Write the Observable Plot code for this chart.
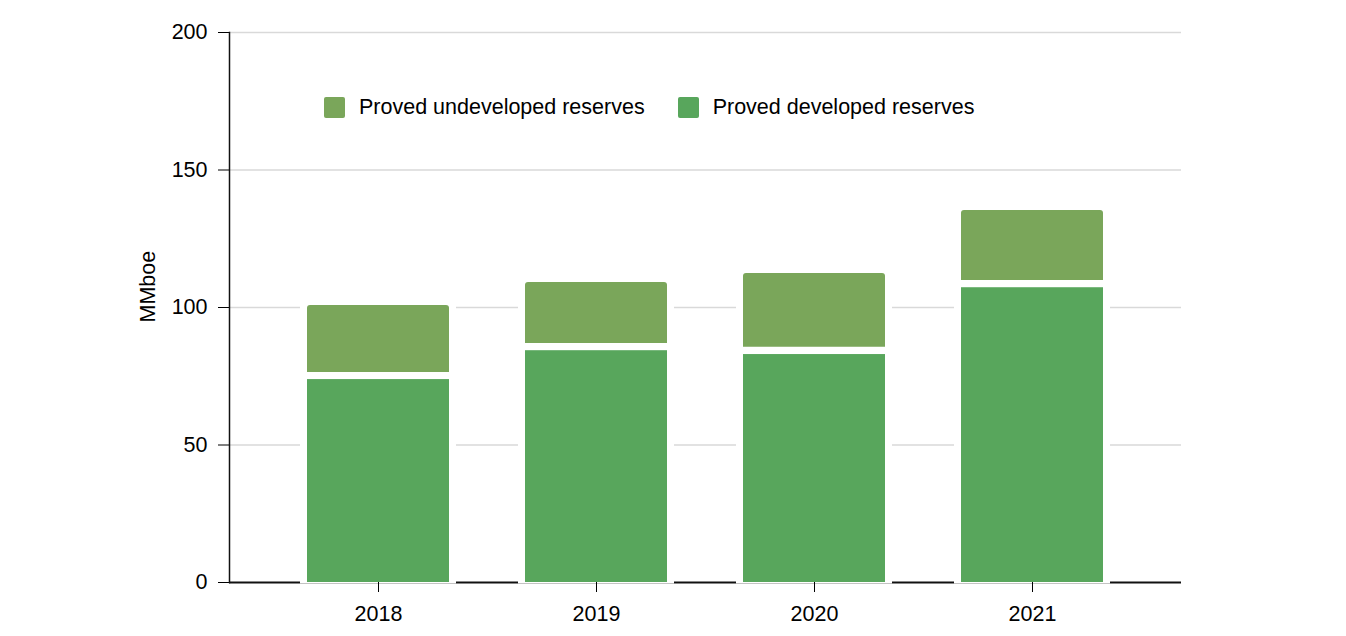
<!DOCTYPE html>
<html><head><meta charset="utf-8">
<script src="https://cdn.jsdelivr.net/npm/d3@7"></script>
<script src="https://cdn.jsdelivr.net/npm/@observablehq/plot@0.6"></script>
<style>
body{margin:0;background:#fff;font-family:"Liberation Sans",Arial,sans-serif;}
#wrap{position:relative;width:1346px;height:636px;}
#legend{position:absolute;left:324px;top:97px;display:flex;align-items:center;font-size:21.5px;color:#000;line-height:21px;}
.item{display:flex;align-items:center;margin-right:33px;}
.sw{width:21px;height:21px;border-radius:2px;margin-right:14px;}
</style></head><body>
<div id="wrap"><div id="legend"></div></div>
<script>
const years = ["2018", "2019", "2020", "2021"];
const developed = [75.1, 85.6, 84.2, 108.5];
const undeveloped = [25.6, 23.5, 28.2, 26.8];
const seriesNames = ["Proved undeveloped reserves", "Proved developed reserves"];
const seriesColors = ["#7aa65a", "#58a65c"];
const yTicks = [0, 50, 100, 150, 200];
const yLabel = "MMboe";

const rows = years.map((y, i) => ({year: y, dev: developed[i], total: developed[i] + undeveloped[i]}));

const chart = Plot.plot({
  width: 1346, height: 636,
  marginLeft: 229, marginRight: 165, marginTop: 32, marginBottom: 54,
  style: {fontFamily: '"Liberation Sans", Arial, sans-serif', fontSize: "21.5px", color: "#000", background: "#fff"},
  x: {domain: years, padding: 0.35, label: null},
  y: {domain: [0, 200], label: null},
  marks: [
    Plot.ruleY(yTicks.filter(d => d > 0), {stroke: "#d9d9d9", strokeWidth: 1.5}),
    Plot.ruleY([0], {stroke: "#111", strokeWidth: 2}),
    Plot.barY(rows, {x: "year", y1: 0, y2: "total", fill: "#fff", insetLeft: -7, insetRight: -7, insetBottom: -1.5}),
    Plot.barY(rows, {x: "year", y1: 0, y2: "dev", fill: seriesColors[1], insetTop: 3.6}),
    Plot.barY(rows, {x: "year", y1: "dev", y2: "total", fill: seriesColors[0], insetBottom: 3.6, ry1: 3}),
    Plot.axisY({ticks: yTicks, tickSize: 11, tickPadding: 11, label: null, tickFormat: d => String(d)}),
    Plot.axisX({tickSize: 10, tickPadding: 13, label: null}),
    Plot.frame({anchor: "left", stroke: "#111", strokeWidth: 1.5}),
    Plot.text([yLabel], {frameAnchor: "left", rotate: -90, dx: -81, dy: 15, fontSize: 21.5})
  ]
});
document.getElementById("wrap").prepend(chart);

const legend = document.getElementById("legend");
seriesNames.forEach((name, i) => {
  const item = document.createElement("div");
  item.className = "item";
  const sw = document.createElement("div");
  sw.className = "sw";
  sw.style.background = seriesColors[i];
  const t = document.createElement("span");
  t.textContent = name;
  item.append(sw, t);
  legend.append(item);
});
</script>
</body></html>
